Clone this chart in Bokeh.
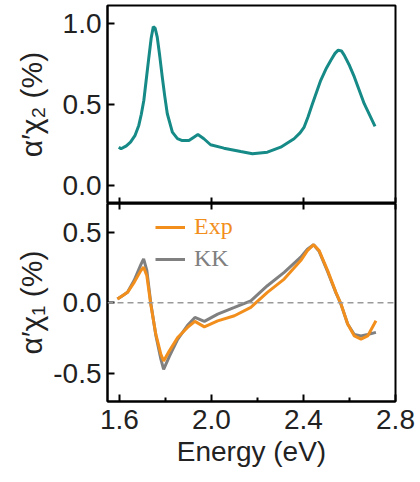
from bokeh.plotting import figure
from bokeh.layouts import column
from bokeh.models import (Range1d, FixedTicker, PrintfTickFormatter, LinearAxis,
                          Span, Legend, LegendItem)
from bokeh.embed import file_html
from bokeh.resources import INLINE

# ---- data ----
chi2_energy = [1.597, 1.607, 1.630, 1.648, 1.668, 1.684, 1.695, 1.706, 1.717, 1.728,
               1.738, 1.747, 1.755, 1.764, 1.775, 1.786, 1.797, 1.808, 1.830, 1.852, 1.873,
               1.902, 1.925, 1.941, 1.967, 1.996, 2.054, 2.127, 2.178, 2.243, 2.301,
               2.359, 2.385, 2.403, 2.420, 2.439, 2.475, 2.500, 2.519, 2.537, 2.551,
               2.565, 2.577, 2.600, 2.621, 2.664, 2.711]
chi2_values = [0.237, 0.227, 0.245, 0.268, 0.310, 0.371, 0.440, 0.526, 0.660, 0.793,
               0.910, 0.979, 0.970, 0.917, 0.800, 0.670, 0.550, 0.443, 0.330, 0.290, 0.278,
               0.278, 0.300, 0.315, 0.289, 0.252, 0.231, 0.210, 0.196, 0.206, 0.237,
               0.289, 0.325, 0.361, 0.425, 0.505, 0.649, 0.725, 0.773, 0.815, 0.835,
               0.830, 0.804, 0.740, 0.670, 0.505, 0.365]

chi1_energy = [1.591, 1.613, 1.635, 1.664, 1.693, 1.705, 1.719, 1.736, 1.758, 1.780,
               1.792, 1.817, 1.853, 1.896, 1.928, 1.969, 2.027, 2.100, 2.171, 2.243,
               2.316, 2.388, 2.417, 2.444, 2.468, 2.505, 2.541, 2.563, 2.592, 2.621,
               2.650, 2.679, 2.715]
chi1_exp = [0.026, 0.050, 0.074, 0.145, 0.228, 0.252, 0.192, -0.010, -0.223, -0.365,
            -0.412, -0.341, -0.246, -0.175, -0.132, -0.171, -0.128, -0.092, -0.033, 0.074,
            0.168, 0.299, 0.370, 0.412, 0.370, 0.228, 0.074, -0.009, -0.151, -0.235,
            -0.258, -0.235, -0.128]
chi1_kk = [0.026, 0.050, 0.074, 0.160, 0.270, 0.311, 0.230, 0.000, -0.230, -0.400,
           -0.472, -0.380, -0.260, -0.160, -0.104, -0.132, -0.080, -0.033, 0.014, 0.121,
           0.216, 0.323, 0.380, 0.412, 0.365, 0.220, 0.070, -0.010, -0.150, -0.225,
           -0.235, -0.225, -0.210]

x_ticks = [1.6, 2.0, 2.4, 2.8]
x_minor = [1.8, 2.2, 2.6]
top_y_ticks = [0.0, 0.5, 1.0]
bot_y_ticks = [-0.5, 0.0, 0.5]

TEAL = "#168a87"
ORANGE = "#f28e1c"
GRAY = "#808080"
FONT = "Liberation Sans"
TICK_SIZE = "28px"

xr = Range1d(1.548, 2.8)


def style_frame(p):
    p.outline_line_color = "black"
    p.outline_line_width = 2
    p.outline_line_alpha = 1
    p.background_fill_color = "white"
    p.border_fill_color = "white"
    p.grid.visible = False


def style_yaxis(ax, standoff):
    ax.axis_line_width = 2
    ax.axis_line_color = "black"
    ax.major_tick_in = 7
    ax.major_tick_out = 0
    ax.major_tick_line_width = 2
    ax.minor_tick_in = 0
    ax.minor_tick_out = 0
    ax.major_label_text_font = FONT
    ax.major_label_text_font_size = TICK_SIZE
    ax.major_label_text_color = "#222222"
    ax.major_label_standoff = 6
    ax.axis_label_text_font = FONT
    ax.axis_label_text_font_size = "30px"
    ax.axis_label_text_font_style = "normal"
    ax.axis_label_text_color = "#222222"
    ax.axis_label_standoff = standoff
    ax.formatter = PrintfTickFormatter(format="%.1f")


def label_free_xaxis(ax):
    # ticks without labels: use the tick positions as minor ticks only
    ax.ticker = FixedTicker(ticks=[], minor_ticks=x_ticks)
    ax.axis_line_width = 2
    ax.axis_line_color = "black"
    ax.major_tick_in = 0
    ax.major_tick_out = 0
    ax.minor_tick_in = 6
    ax.minor_tick_out = 0
    ax.minor_tick_line_width = 2
    ax.minor_tick_line_color = "black"
    ax.major_label_standoff = 0


# ---- top panel ----
top = figure(frame_width=288, frame_height=198, x_range=xr, y_range=Range1d(-0.11, 1.11),
             output_backend="svg", toolbar_location=None, x_axis_location=None,
             min_border_left=107, min_border_right=25, min_border_top=5, min_border_bottom=0)
style_frame(top)
top.line(chi2_energy, chi2_values, line_color=TEAL, line_width=3)
top_bottom_ax = LinearAxis()
label_free_xaxis(top_bottom_ax)
top.add_layout(top_bottom_ax, "below")
top.yaxis[0].ticker = FixedTicker(ticks=top_y_ticks)
style_yaxis(top.yaxis[0], 12)
top.yaxis[0].axis_label = "α′χ₂ (%)"

# ---- bottom panel ----
bot = figure(frame_width=288, frame_height=198, x_range=xr, y_range=Range1d(-0.70, 0.704),
             output_backend="svg", toolbar_location=None,
             min_border_left=107, min_border_right=25, min_border_top=0, min_border_bottom=81)
style_frame(bot)
bot.add_layout(Span(location=0, dimension="width", line_color="#9a9a9a",
                    line_dash="6 4", line_width=1.5))
r_kk = bot.line(chi1_energy, chi1_kk, line_color=GRAY, line_width=3)
r_exp = bot.line(chi1_energy, chi1_exp, line_color=ORANGE, line_width=3)

xa = bot.xaxis[0]
xa.ticker = FixedTicker(ticks=x_ticks, minor_ticks=x_minor)
xa.axis_line_width = 2
xa.axis_line_color = "black"
xa.major_tick_in = 7
xa.major_tick_out = 0
xa.major_tick_line_width = 2
xa.minor_tick_in = 4
xa.minor_tick_out = 0
xa.minor_tick_line_width = 2
xa.minor_tick_line_color = "black"
xa.major_label_text_font = FONT
xa.major_label_text_font_size = TICK_SIZE
xa.major_label_text_color = "#222222"
xa.major_label_standoff = 8
xa.formatter = PrintfTickFormatter(format="%.1f")
xa.axis_label = "Energy (eV)"
xa.axis_label_text_font = FONT
xa.axis_label_text_font_size = "28px"
xa.axis_label_text_font_style = "normal"
xa.axis_label_text_color = "#222222"
xa.axis_label_standoff = 4

top_ax = LinearAxis()
label_free_xaxis(top_ax)
bot.add_layout(top_ax, "above")

bot.yaxis[0].ticker = FixedTicker(ticks=bot_y_ticks)
style_yaxis(bot.yaxis[0], 2)
bot.yaxis[0].axis_label = "α′χ₁ (%)"


def make_legend(label, renderer, color, loc):
    lg = Legend(items=[LegendItem(label=label, renderers=[renderer])], location=loc,
                orientation="vertical", padding=0, margin=0, spacing=0,
                glyph_width=30, glyph_height=24, label_height=24, label_standoff=9,
                label_text_font="Liberation Serif", label_text_font_size="24px",
                label_text_color=color, border_line_color=None,
                background_fill_alpha=0)
    return lg


bot.add_layout(make_legend("Exp", r_exp, ORANGE, (48, 161)))
bot.add_layout(make_legend("KK", r_kk, GRAY, (48, 129)))

layout = column(top, bot, spacing=0)

open("out.html", "w").write(file_html(layout, INLINE))
